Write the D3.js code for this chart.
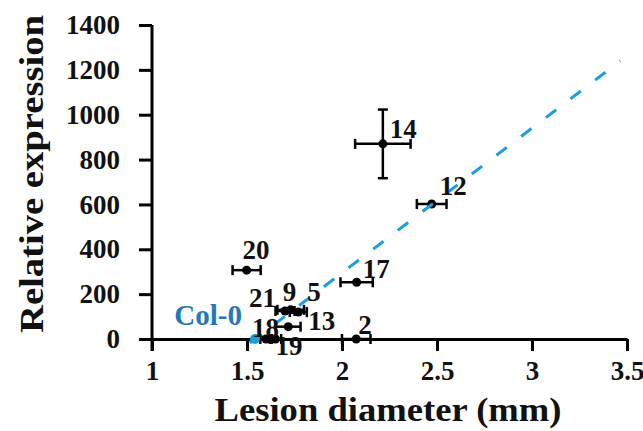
<!DOCTYPE html>
<html>
<head>
<meta charset="utf-8">
<script src="https://cdn.jsdelivr.net/npm/d3@7"></script>
<style>
  body { margin: 0; background: #fff; }
  text { font-family: "Liberation Serif", "Times New Roman", serif; font-weight: bold; }
</style>
</head>
<body>
<div id="chart"></div>
<script>
// genotype labels and their values
var names  = ["14", "12", "17", "2", "20", "21", "9", "5", "13", "18", "19"];
var lesion = [2.215, 2.472, 2.077, 2.075, 1.498, 1.70, 1.73, 1.77, 1.717, 1.60, 1.65];
var expr   = [870, 602, 253, 0, 307, 125, 130, 120, 55, 0, 0];
var xErr   = [0.146, 0.078, 0.085, 0.075, 0.074, 0.05, 0.07, 0.045, 0.065, 0.03, 0.03];
var yErr   = [153, 0, 0, 0, 0, 0, 0, 0, 0, 0, 0];

// wild type
var colLesion = 1.542, colExpr = 0;

// fitted trend line ends
var trendX = [1.515, 3.465];
var trendY = [-18, 1240];

var xTicks = [1, 1.5, 2, 2.5, 3, 3.5];
var yTicks = [0, 200, 400, 600, 800, 1000, 1200, 1400];

// where each label sits relative to its point (px)
var labelOffset = {
  "14": [7, -6], "12": [8, -9], "17": [6, -4], "2": [2, -5], "20": [-4, -11],
  "21": [-36, -4], "9": [-8, -9], "5": [9, -11], "13": [20, 3], "18": [-14, -2], "19": [0, 16]
};

var width = 643, height = 431;
var svg = d3.select("#chart").append("svg")
  .attr("width", width).attr("height", height);

var x = d3.scaleLinear().domain([1, 3.5]).range([152, 627]);
var y = d3.scaleLinear().domain([0, 1400]).range([339, 25]);

var blue = "#1a9fdc";
var serif = "'Liberation Serif', 'Times New Roman', serif";

// axes
var yAxis = svg.append("g")
  .attr("transform", "translate(152,0)")
  .call(d3.axisLeft(y).tickValues(yTicks).tickSize(13).tickSizeOuter(0).tickPadding(19)
    .tickFormat(d3.format("d")));
var xAxis = svg.append("g")
  .attr("transform", "translate(0,339)")
  .call(d3.axisBottom(x).tickValues(xTicks).tickSize(12).tickSizeOuter(0).tickPadding(10)
    .tickFormat(d3.format("")));

[xAxis, yAxis].forEach(function (g) {
  g.attr("font-family", serif);
  g.select(".domain").attr("stroke", "#000").attr("stroke-width", 3);
  g.selectAll(".tick line").attr("stroke", "#000").attr("stroke-width", 3);
  g.selectAll(".tick text").attr("fill", "#111")
    .style("font-family", serif).style("font-size", "27px");
});
// extend y axis down to the x tick length
yAxis.select(".domain").attr("d", "M0," + y(1400) + "V" + (y(0) + 12));

// axis titles
svg.append("text")
  .attr("x", 388).attr("y", 421)
  .attr("text-anchor", "middle")
  .attr("textLength", 347).attr("lengthAdjust", "spacingAndGlyphs")
  .attr("fill", "#111")
  .style("font-size", "34px")
  .text("Lesion diameter (mm)");
svg.append("text")
  .attr("transform", "translate(43,174) rotate(-90)")
  .attr("text-anchor", "middle")
  .attr("textLength", 318).attr("lengthAdjust", "spacingAndGlyphs")
  .attr("fill", "#111")
  .style("font-size", "34px")
  .text("Relative expression");

var pts = names.map(function (n, i) {
  return { name: n, lx: lesion[i], ly: expr[i], ex: xErr[i], ey: yErr[i] };
});

var bars = svg.append("g").attr("stroke", "#000").attr("stroke-width", 2.5);
pts.forEach(function (d) {
  var cx = x(d.lx), cy = y(d.ly);
  if (d.ex > 0) {
    bars.append("line").attr("x1", x(d.lx - d.ex)).attr("x2", x(d.lx + d.ex)).attr("y1", cy).attr("y2", cy);
    bars.append("line").attr("x1", x(d.lx - d.ex)).attr("x2", x(d.lx - d.ex)).attr("y1", cy - 5).attr("y2", cy + 5);
    bars.append("line").attr("x1", x(d.lx + d.ex)).attr("x2", x(d.lx + d.ex)).attr("y1", cy - 5).attr("y2", cy + 5);
  }
  if (d.ey > 0) {
    bars.append("line").attr("x1", cx).attr("x2", cx).attr("y1", y(d.ly - d.ey)).attr("y2", y(d.ly + d.ey));
    bars.append("line").attr("x1", cx - 5).attr("x2", cx + 5).attr("y1", y(d.ly - d.ey)).attr("y2", y(d.ly - d.ey));
    bars.append("line").attr("x1", cx - 5).attr("x2", cx + 5).attr("y1", y(d.ly + d.ey)).attr("y2", y(d.ly + d.ey));
  }
});

svg.selectAll(".pt").data(pts).enter().append("circle")
  .attr("class", "pt")
  .attr("cx", function (d) { return x(d.lx); })
  .attr("cy", function (d) { return y(d.ly); })
  .attr("r", 4.5)
  .attr("fill", "#000");

svg.append("circle")
  .attr("cx", x(colLesion)).attr("cy", y(colExpr)).attr("r", 5)
  .attr("fill", blue);

// dashed trend line
svg.append("line")
  .attr("x1", x(trendX[0])).attr("y1", y(trendY[0]))
  .attr("x2", x(trendX[1])).attr("y2", y(trendY[1]))
  .attr("stroke", blue).attr("stroke-width", 3)
  .attr("stroke-dasharray", "13,18");

// labels
svg.selectAll(".lab").data(pts).enter().append("text")
  .attr("class", "lab")
  .attr("x", function (d) { return x(d.lx) + labelOffset[d.name][0]; })
  .attr("y", function (d) { return y(d.ly) + labelOffset[d.name][1]; })
  .style("font-size", "27px")
  .attr("fill", "#111")
  .text(function (d) { return d.name; });

svg.append("text")
  .attr("x", x(colLesion) - 13).attr("y", y(colExpr) - 14)
  .attr("text-anchor", "end")
  .attr("fill", "#1f78c1")
  .style("font-size", "29px")
  .text("Col-0");
</script>
</body>
</html>
